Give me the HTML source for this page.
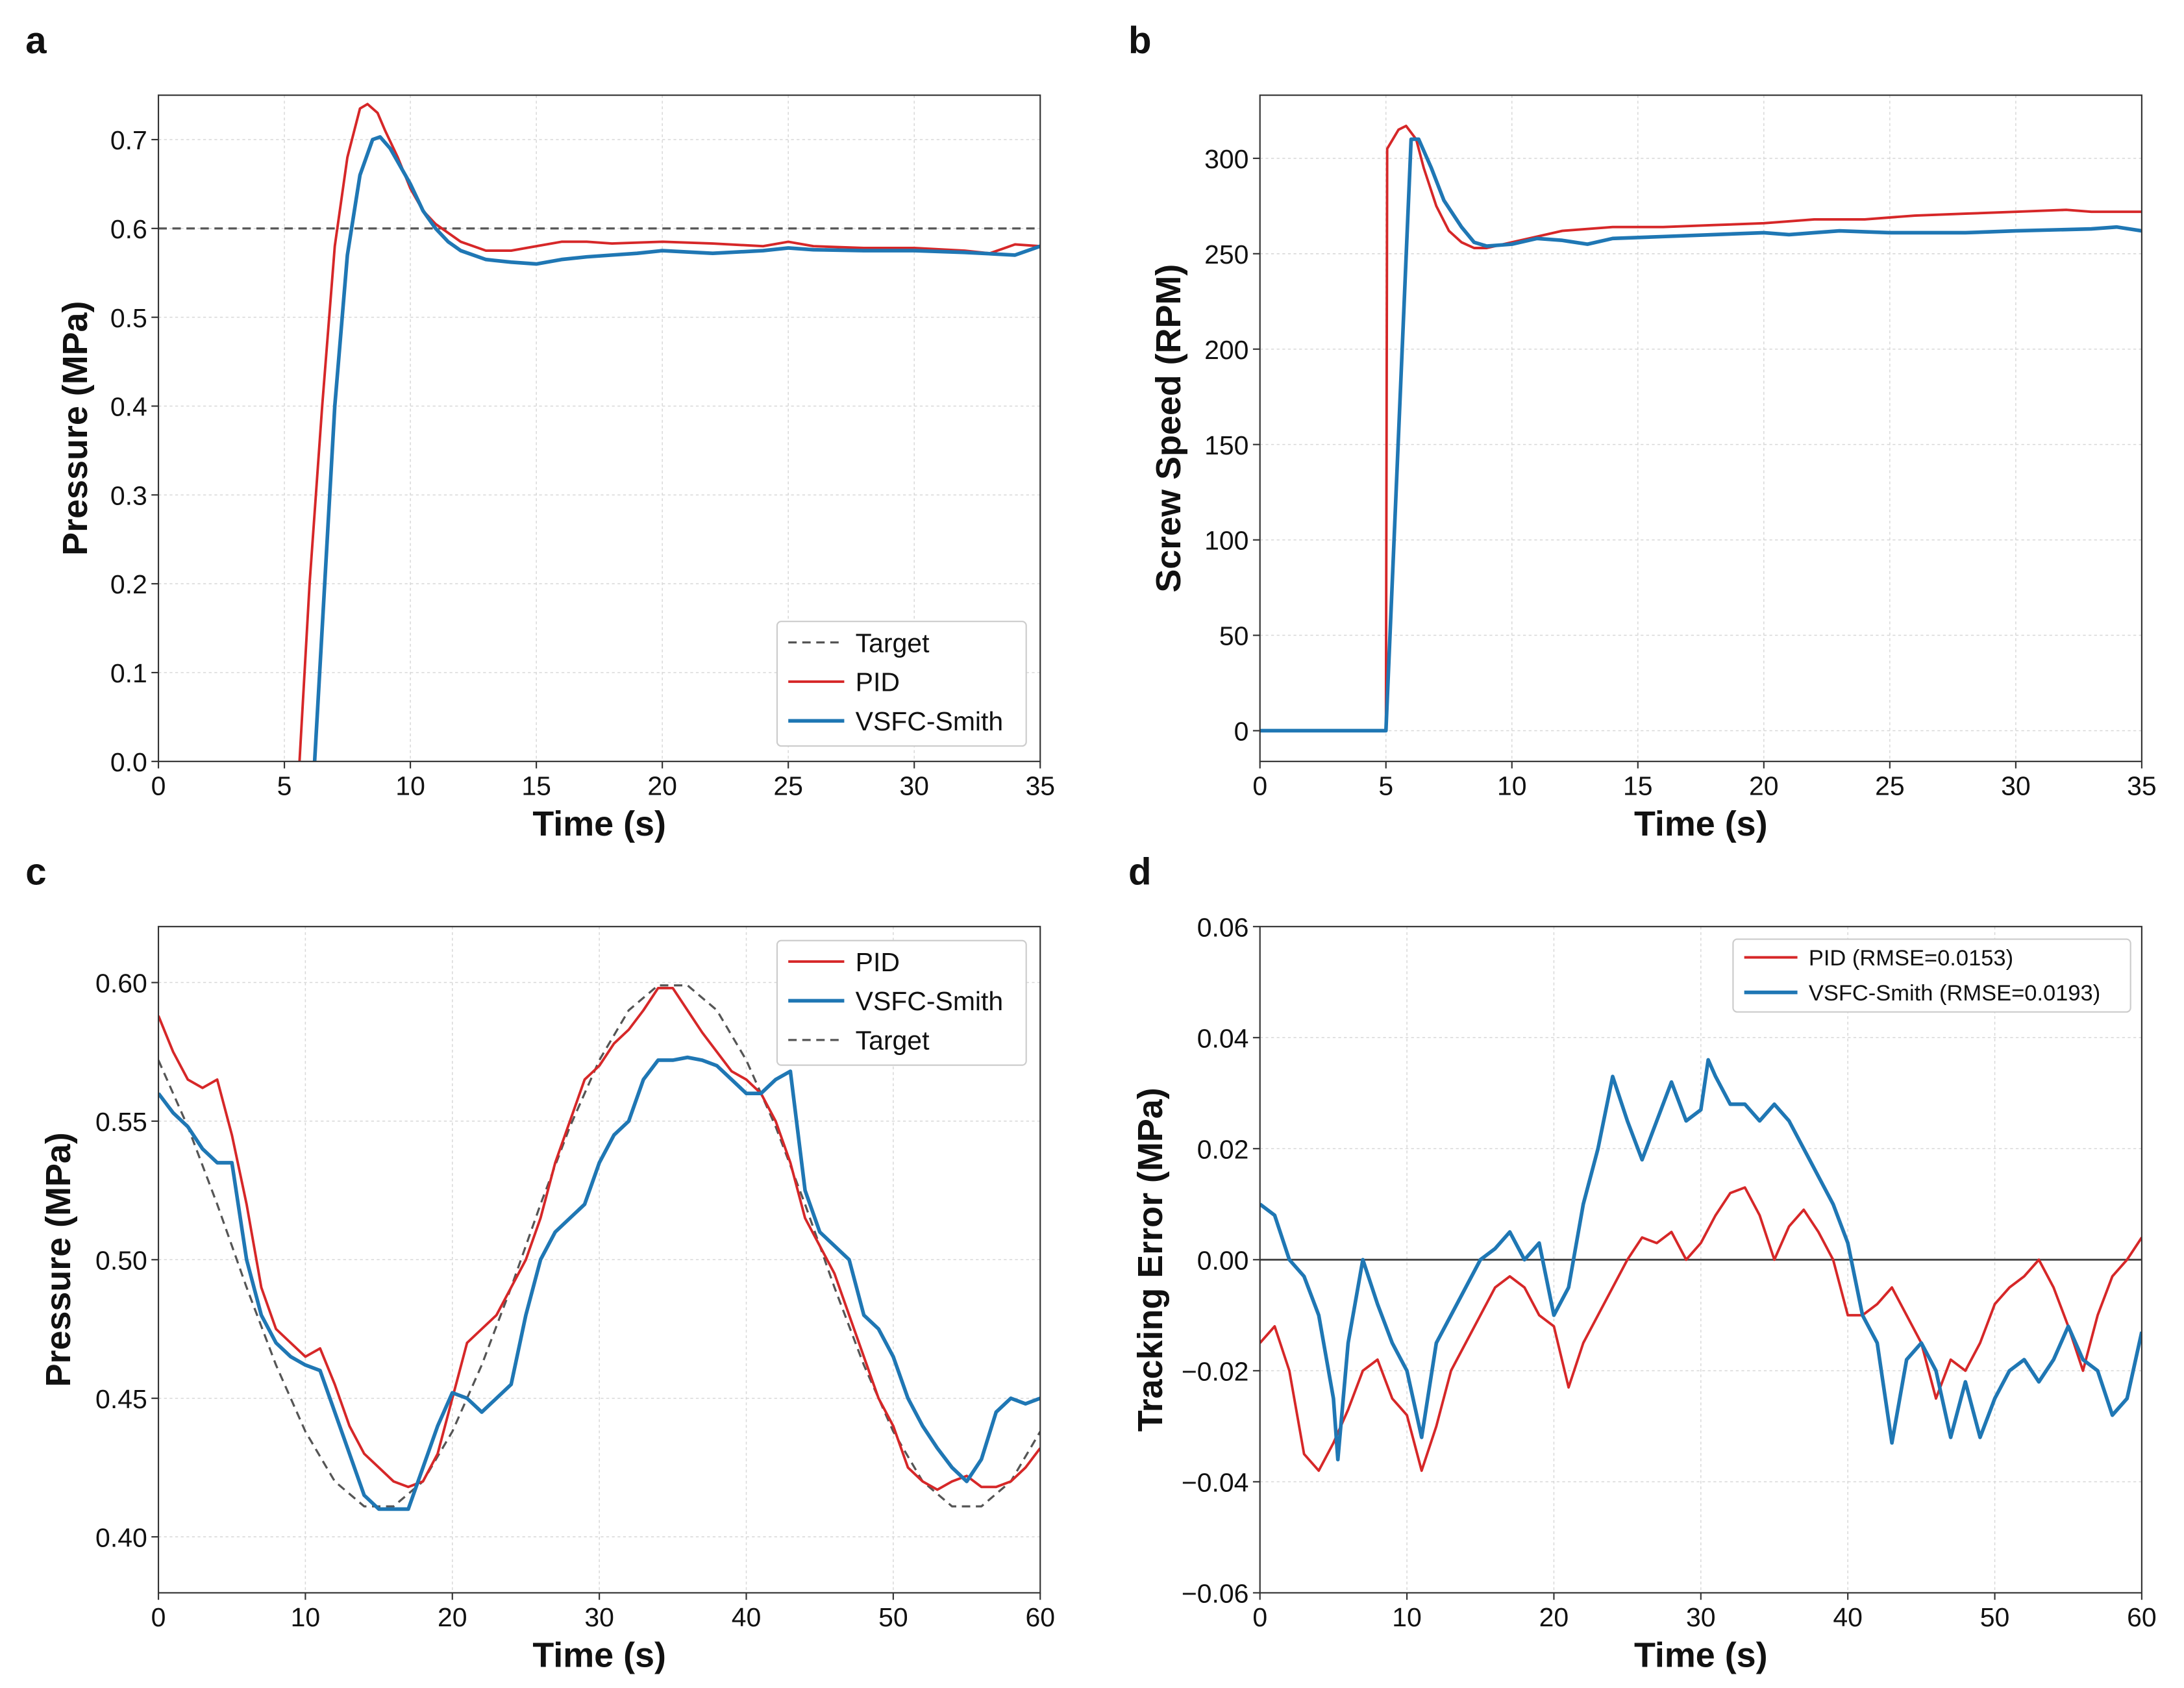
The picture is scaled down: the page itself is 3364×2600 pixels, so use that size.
<!DOCTYPE html>
<html><head><meta charset="utf-8">
<style>
html,body{margin:0;padding:0;background:#fff;}
svg{display:block;font-family:"Liberation Sans",sans-serif;}
</style></head>
<body>
<svg id="fig" width="3364" height="2600" viewBox="0 0 1560 1206" xmlns="http://www.w3.org/2000/svg"></svg>
<script>
// ---- Panel a data ----
const aPidT=[0,5.4,5.6,6,6.5,7,7.5,8,8.3,8.7,9,9.5,10,10.5,11,12,13,14,15,16,17,18,20,22,24,25,26,28,30,32,33,34,35];
const aPidV=[-0.05,-0.05,0,0.2,0.4,0.58,0.68,0.735,0.74,0.73,0.71,0.68,0.645,0.62,0.605,0.585,0.575,0.575,0.58,0.585,0.585,0.583,0.585,0.583,0.58,0.585,0.58,0.578,0.578,0.575,0.572,0.582,0.58];
const aVsfT=[0,6,6.2,6.6,7,7.5,8,8.5,8.8,9.2,10,10.5,11,11.5,12,13,14,15,16,17,18,19,20,22,24,25,26,28,30,32,34,35];
const aVsfV=[-0.05,-0.05,0,0.2,0.4,0.57,0.66,0.7,0.703,0.69,0.65,0.62,0.6,0.585,0.575,0.565,0.562,0.56,0.565,0.568,0.57,0.572,0.575,0.572,0.575,0.578,0.576,0.575,0.575,0.573,0.57,0.58];
const aTarget=0.6;
// ---- Panel b data ----
const bPidT=[0,5,5.05,5.5,5.8,6.2,6.5,7,7.5,8,8.5,9,10,11,12,14,16,18,20,22,24,26,28,30,32,33,35];
const bPidV=[0,0,305,315,317,310,295,275,262,256,253,253,256,259,262,264,264,265,266,268,268,270,271,272,273,272,272];
const bVsfT=[0,5,6,6.3,6.8,7.3,7.8,8,8.5,9,10,11,12,13,14,16,18,20,21,22,23,25,28,30,33,34,35];
const bVsfV=[0,0,310,310,295,278,268,264,256,254,255,258,257,255,258,259,260,261,260,261,262,261,261,262,263,264,262];
// ---- Panel c data ----
const cT=[0,1,2,3,4,5,6,7,8,9,10,11,12,13,14,15,16,17,18,19,20,21,22,23,24,25,26,27,28,29,30,31,32,33,34,35,36,37,38,39,40,41,42,43,44,45,46,47,48,49,50,51,52,53,54,55,56,57,58,59,60];
const cPid=[0.588,0.575,0.565,0.562,0.565,0.545,0.52,0.49,0.475,0.47,0.465,0.468,0.455,0.44,0.43,0.425,0.42,0.418,0.42,0.43,0.45,0.47,0.475,0.48,0.49,0.5,0.515,0.535,0.55,0.565,0.57,0.578,0.583,0.59,0.598,0.598,0.59,0.582,0.575,0.568,0.565,0.56,0.55,0.535,0.515,0.505,0.495,0.48,0.465,0.45,0.44,0.425,0.42,0.417,0.42,0.422,0.418,0.418,0.42,0.425,0.432];
const cVsf=[0.56,0.553,0.548,0.54,0.535,0.535,0.5,0.48,0.47,0.465,0.462,0.46,0.445,0.43,0.415,0.41,0.41,0.41,0.425,0.44,0.452,0.45,0.445,0.45,0.455,0.48,0.5,0.51,0.515,0.52,0.535,0.545,0.55,0.565,0.572,0.572,0.573,0.572,0.57,0.565,0.56,0.56,0.565,0.568,0.525,0.51,0.505,0.5,0.48,0.475,0.465,0.45,0.44,0.432,0.425,0.42,0.428,0.445,0.45,0.448,0.45];
const cTgtT=[0,2,4,6,8,10,12,14,16,18,20,22,24,26,28,30,32,34,36,38,40,42,44,46,48,50,52,54,56,58,60];
const cTgt=[0.572,0.548,0.52,0.49,0.462,0.438,0.42,0.411,0.411,0.42,0.438,0.462,0.49,0.52,0.548,0.572,0.59,0.599,0.599,0.59,0.572,0.548,0.52,0.49,0.462,0.438,0.42,0.411,0.411,0.42,0.438];
// ---- Panel d data ----
const dPid=[-0.015,-0.012,-0.02,-0.035,-0.038,-0.033,-0.027,-0.02,-0.018,-0.025,-0.028,-0.038,-0.03,-0.02,-0.015,-0.01,-0.005,-0.003,-0.005,-0.01,-0.012,-0.023,-0.015,-0.01,-0.005,0,0.004,0.003,0.005,0,0.003,0.008,0.012,0.013,0.008,0,0.006,0.009,0.005,0,-0.01,-0.01,-0.008,-0.005,-0.01,-0.015,-0.025,-0.018,-0.02,-0.015,-0.008,-0.005,-0.003,0,-0.005,-0.012,-0.02,-0.01,-0.003,0,0.004];
const dVsfT=[0,1,2,3,4,5,5.3,6,7,8,9,10,11,12,13,14,15,16,17,18,19,20,21,22,23,24,25,26,27,28,29,30,30.5,31,32,33,34,35,36,37,38,39,40,41,42,43,44,45,46,47,48,49,50,51,52,53,54,55,56,57,58,59,60];
const dVsf=[0.01,0.008,0,-0.003,-0.01,-0.025,-0.036,-0.015,0,-0.008,-0.015,-0.02,-0.032,-0.015,-0.01,-0.005,0,0.002,0.005,0,0.003,-0.01,-0.005,0.01,0.02,0.033,0.025,0.018,0.025,0.032,0.025,0.027,0.036,0.033,0.028,0.028,0.025,0.028,0.025,0.02,0.015,0.01,0.003,-0.01,-0.015,-0.033,-0.018,-0.015,-0.02,-0.032,-0.022,-0.032,-0.025,-0.02,-0.018,-0.022,-0.018,-0.012,-0.018,-0.02,-0.028,-0.025,-0.013];

const NS="http://www.w3.org/2000/svg";
const svg=document.getElementById('fig');
const RED="#d62728", BLUE="#1f77b4";
function mk(tag,attrs,parent){const e=document.createElementNS(NS,tag);for(const k in attrs)e.setAttribute(k,attrs[k]);(parent||svg).appendChild(e);return e;}
function txt(s,attrs,parent){const e=mk('text',attrs,parent);e.textContent=s;return e;}

function panel(o){
  const g=mk('g',{});
  
  
  const sx=v=>o.L+(v-o.x0)/(o.x1-o.x0)*(o.R-o.L);
  const sy=v=>o.B-(v-o.y0)/(o.y1-o.y0)*(o.B-o.T);
  const cid='clip-'+o.name;
  const cp=mk('clipPath',{id:cid},g);mk('rect',{x:o.L,y:o.T,width:o.R-o.L,height:o.B-o.T},cp);
  // grid
  o.xt.forEach(v=>{const l=mk('line',{x1:sx(v),x2:sx(v),y1:o.T,y2:o.B,stroke:'#d8d8d8','stroke-width':0.7,'stroke-dasharray':'2,2'},g);});
  o.yt.forEach(v=>{const l=mk('line',{x1:o.L,x2:o.R,y1:sy(v),y2:sy(v),stroke:'#d8d8d8','stroke-width':0.7,'stroke-dasharray':'2,2'},g);});
  // ticks + labels
  o.xt.forEach((v,i)=>{mk('line',{x1:sx(v),x2:sx(v),y1:o.B,y2:o.B+5,stroke:'#333','stroke-width':1},g);
    const t=txt(o.xl[i],{x:sx(v),y:o.B+24,'text-anchor':'middle','font-size':19,fill:'#111'},g);});
  o.yt.forEach((v,i)=>{mk('line',{x1:o.L-5,x2:o.L,y1:sy(v),y2:sy(v),stroke:'#333','stroke-width':1},g);
    const t=txt(o.yl[i],{x:o.L-8,y:sy(v)+7,'text-anchor':'end','font-size':19,fill:'#111'},g);});
  const xa=txt(o.xlabel,{x:(o.L+o.R)/2,y:o.B+53,'text-anchor':'middle','font-size':25,'font-weight':'bold',fill:'#111'},g);
  
  const ya=txt(o.ylabel,{x:0,y:0,'text-anchor':'middle','font-size':25,'font-weight':'bold',fill:'#111',transform:`translate(${o.ylx},${(o.T+o.B)/2}) rotate(-90)`},g);
  
  const lt=txt(o.letter,{x:o.letx,y:o.lety,'font-size':27,'font-weight':'bold',fill:'#111'},g);
  
  const pg=mk('g',{'clip-path':`url(#${cid})`},g);
  o.series.forEach(s=>{
    const d=s.t.map((t,i)=>(i?'L':'M')+sx(t).toFixed(2)+','+sy(s.v[i]).toFixed(2)).join('');
    const p=mk('path',{d:d,fill:'none',stroke:s.color,'stroke-width':s.w,'stroke-linejoin':'round'},pg);
    if(s.dash)p.setAttribute('stroke-dasharray',s.dash);
    
    
  });
  mk('rect',{x:o.L,y:o.T,width:o.R-o.L,height:o.B-o.T,fill:'none',stroke:'#333','stroke-width':1},g);
  // legend
  const lg=mk('g',{},g);
  
  
  const L=o.legend;
  mk('rect',{x:L.x,y:L.y,width:L.w,height:L.h,fill:'#fff',stroke:'#ccc','stroke-width':1,rx:3},lg);
  L.items.forEach((it,i)=>{
    const y=L.y+L.pad+i*L.dy;
    const ln=mk('line',{x1:L.x+8,x2:L.x+8+L.lw,y1:y,y2:y,stroke:it.color,'stroke-width':it.w},lg);
    if(it.dash)ln.setAttribute('stroke-dasharray',it.dash);
    const t=txt(it.label,{x:L.x+16+L.lw,y:y+L.fs*0.36,'font-size':L.fs,fill:'#111'},lg);
    
    
  });
}

panel({name:'panel-a',letter:'a',letx:18,lety:38,L:113,R:743,T:68,B:544,x0:0,x1:35,y0:0,y1:0.75,
  xt:[0,5,10,15,20,25,30,35],xl:['0','5','10','15','20','25','30','35'],
  yt:[0,0.1,0.2,0.3,0.4,0.5,0.6,0.7],yl:['0.0','0.1','0.2','0.3','0.4','0.5','0.6','0.7'],
  xlabel:'Time (s)',ylabel:'Pressure (MPa)',ylx:62,
  series:[{name:'target-line',t:[0,35],v:[aTarget,aTarget],color:'#555',w:1.5,dash:'6,4'},
    {name:'pid-line',t:aPidT,v:aPidV,color:RED,w:1.8},
    {name:'vsfc-smith-line',t:aVsfT,v:aVsfV,color:BLUE,w:2.6}],
  legend:{x:555,y:444,w:178,h:89,pad:15,dy:28,lw:40,fs:19,items:[
    {label:'Target',color:'#555',w:1.5,dash:'6,4'},{label:'PID',color:RED,w:1.8},{label:'VSFC-Smith',color:BLUE,w:2.6}]}});

panel({name:'panel-b',letter:'b',letx:806,lety:38,L:900,R:1530,T:68,B:544,x0:0,x1:35,y0:-16.1,y1:333.1,
  xt:[0,5,10,15,20,25,30,35],xl:['0','5','10','15','20','25','30','35'],
  yt:[0,50,100,150,200,250,300],yl:['0','50','100','150','200','250','300'],
  xlabel:'Time (s)',ylabel:'Screw Speed (RPM)',ylx:843,
  series:[{name:'pid-line',t:bPidT,v:bPidV,color:RED,w:1.8},
    {name:'vsfc-smith-line',t:bVsfT,v:bVsfV,color:BLUE,w:2.6}],
  legend:{x:0,y:0,w:0,h:0,pad:0,dy:0,lw:0,fs:0,items:[]}});

panel({name:'panel-c',letter:'c',letx:18,lety:632,L:113,R:743,T:662,B:1138,x0:0,x1:60,y0:0.3798,y1:0.6202,
  xt:[0,10,20,30,40,50,60],xl:['0','10','20','30','40','50','60'],
  yt:[0.40,0.45,0.50,0.55,0.60],yl:['0.40','0.45','0.50','0.55','0.60'],
  xlabel:'Time (s)',ylabel:'Pressure (MPa)',ylx:50,
  series:[{name:'target-curve',t:cTgtT,v:cTgt,color:'#555',w:1.5,dash:'6,4'},
    {name:'pid-line',t:cT,v:cPid,color:RED,w:1.8},
    {name:'vsfc-smith-line',t:cT,v:cVsf,color:BLUE,w:2.6}],
  legend:{x:555,y:672,w:178,h:89,pad:15,dy:28,lw:40,fs:19,items:[
    {label:'PID',color:RED,w:1.8},{label:'VSFC-Smith',color:BLUE,w:2.6},{label:'Target',color:'#555',w:1.5,dash:'6,4'}]}});

panel({name:'panel-d',letter:'d',letx:806,lety:632,L:900,R:1530,T:662,B:1138,x0:0,x1:60,y0:-0.06,y1:0.06,
  xt:[0,10,20,30,40,50,60],xl:['0','10','20','30','40','50','60'],
  yt:[-0.06,-0.04,-0.02,0,0.02,0.04,0.06],yl:['\u22120.06','\u22120.04','\u22120.02','0.00','0.02','0.04','0.06'],
  xlabel:'Time (s)',ylabel:'Tracking Error (MPa)',ylx:830,
  series:[{name:'zero-line',t:[0,60],v:[0,0],color:'#444',w:1.3},
    {name:'pid-error-line',t:cT,v:dPid,color:RED,w:1.8},
    {name:'vsfc-smith-error-line',t:dVsfT,v:dVsf,color:BLUE,w:2.6}],
  legend:{x:1238,y:671,w:284,h:52,pad:13,dy:25,lw:38,fs:16,items:[
    {label:'PID (RMSE=0.0153)',color:RED,w:1.8},{label:'VSFC-Smith (RMSE=0.0193)',color:BLUE,w:2.6}]}});
</script>
</body></html>
